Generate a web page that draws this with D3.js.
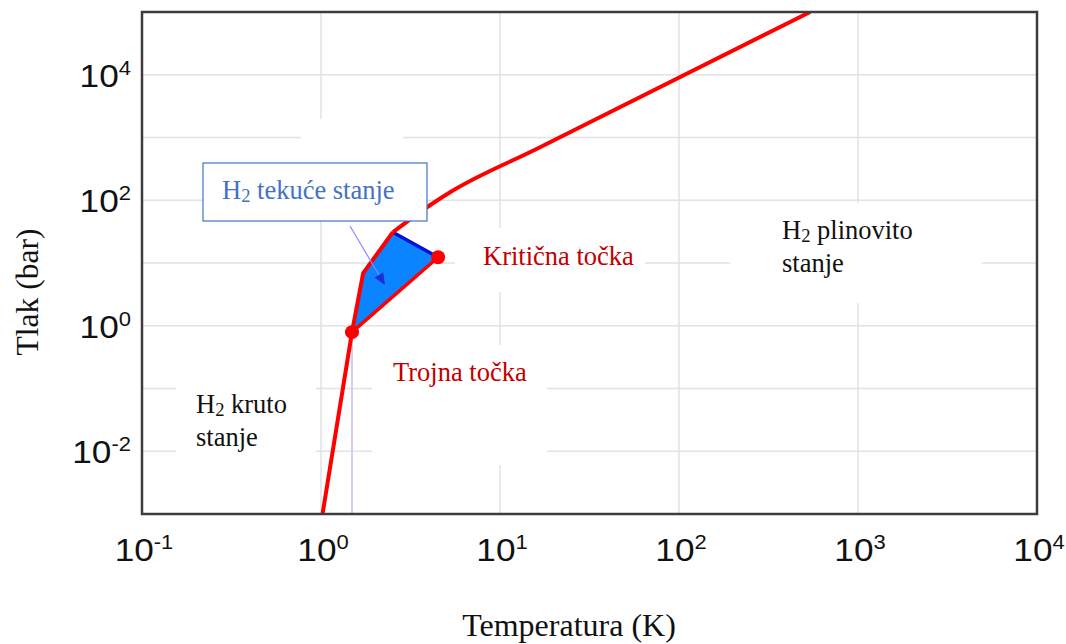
<!DOCTYPE html>
<html>
<head>
<meta charset="utf-8">
<script src="https://cdn.jsdelivr.net/npm/d3@7"></script>
<style>
  html, body { margin: 0; padding: 0; background: #fff; }
  svg { display: block; }
</style>
</head>
<body>
<svg id="chart" width="1066" height="644"></svg>
<script>
// ---------- data ----------
const xDomain = [0.1, 10000];
const yDomain = [1e-3, 1e5];
const xTickValues = [0.1, 1, 10, 100, 1000, 10000];
const xTickExponents = ["-1", "0", "1", "2", "3", "4"];
const yTickValues = [1e-2, 1, 1e2, 1e4];
const yTickExponents = ["-2", "0", "2", "4"];
const xGridValues = [1, 10, 100, 1000];
const yGridValues = [1e-2, 1e-1, 1, 10, 100, 1e3, 1e4];

// lower phase boundary (sublimation + start of melting curve), T in K, P in bar
const lowerT = [1.02, 1.49, 1.72, 2.52];
const lowerP = [1e-3, 0.79, 6.9, 30.9];
// upper melting curve
const upperT = [2.52, 4.06, 5.26, 16.1, 540];
const upperP = [30.9, 83.3, 134, 662, 1e5];
// liquid region polygon
const liquidT = [1.49, 1.72, 2.52, 4.51];
const liquidP = [0.79, 6.9, 30.9, 12.35];
// vaporisation curve
const vaporT = [1.49, 4.51];
const vaporP = [0.79, 12.35];
// upper liquid edge
const liquidTopT = [2.52, 4.51];
const liquidTopP = [30.9, 12.35];
// special points
const pointNames = ["Trojna točka", "Kritična točka"];
const pointT = [1.49, 4.51];
const pointP = [0.79, 12.35];
// arrow target inside liquid region
const arrowTarget = [2.28, 4.42];

// ---------- layout ----------
const W = 1066, H = 644;
const plot = { left: 142, top: 12, right: 1037, bottom: 514 };
const svg = d3.select("#chart");

const x = d3.scaleLog().domain(xDomain).range([plot.left, plot.right]);
const y = d3.scaleLog().domain(yDomain).range([plot.bottom, plot.top]);

svg.append("defs").append("clipPath").attr("id", "clip")
  .append("rect").attr("x", plot.left).attr("y", plot.top)
  .attr("width", plot.right - plot.left).attr("height", plot.bottom - plot.top);

// gridlines
const grid = svg.append("g").attr("stroke", "#e2e2e2").attr("stroke-width", 1.5);
grid.selectAll("line.v").data(xGridValues).join("line")
  .attr("x1", d => x(d)).attr("x2", d => x(d))
  .attr("y1", plot.top).attr("y2", plot.bottom);
grid.selectAll("line.h").data(yGridValues).join("line")
  .attr("y1", d => y(d)).attr("y2", d => y(d))
  .attr("x1", plot.left).attr("x2", plot.right);

// white label backgrounds (text boxes interrupting the grid)
const masks = [
  [301, 119, 102, 50],
  [455, 228, 190, 64],
  [372, 345, 175, 120],
  [176, 378, 140, 88],
  [730, 203, 252, 100]
];
svg.append("g").selectAll("rect").data(masks).join("rect")
  .attr("x", d => d[0]).attr("y", d => d[1]).attr("width", d => d[2]).attr("height", d => d[3])
  .attr("fill", "#fff");

const g = svg.append("g").attr("clip-path", "url(#clip)");
const line = d3.line().x(d => x(d[0])).y(d => y(d[1]));
const smooth = d3.line().x(d => x(d[0])).y(d => y(d[1])).curve(d3.curveMonotoneX);

// lavender drop line from triple point
g.append("line")
  .attr("x1", x(pointT[0])).attr("x2", x(pointT[0]))
  .attr("y1", y(pointP[0])).attr("y2", plot.bottom)
  .attr("stroke", "#d4cdee").attr("stroke-width", 2);

// liquid region
g.append("path")
  .datum(liquidT.map((t, i) => [t, liquidP[i]]))
  .attr("d", d => line(d) + "Z")
  .attr("fill", "#0a84ff");
g.append("path")
  .datum(liquidTopT.map((t, i) => [t, liquidTopP[i]]))
  .attr("d", line).attr("fill", "none")
  .attr("stroke", "#0010d8").attr("stroke-width", 3.5);

// red curves
g.append("path")
  .datum(vaporT.map((t, i) => [t, vaporP[i]]))
  .attr("d", line).attr("fill", "none")
  .attr("stroke", "#ff0000").attr("stroke-width", 3.5);
g.append("path")
  .datum(lowerT.map((t, i) => [t, lowerP[i]]))
  .attr("d", line).attr("fill", "none")
  .attr("stroke", "#ff0000").attr("stroke-width", 4).attr("stroke-linejoin", "round");
g.append("path")
  .datum(upperT.map((t, i) => [t, upperP[i]]))
  .attr("d", smooth).attr("fill", "none")
  .attr("stroke", "#ff0000").attr("stroke-width", 4).attr("stroke-linejoin", "round");

// points
g.selectAll("circle").data(pointT).join("circle")
  .attr("cx", d => x(d)).attr("cy", (d, i) => y(pointP[i])).attr("r", 7)
  .attr("fill", "#ff0000");

// frame
svg.append("rect")
  .attr("x", plot.left).attr("y", plot.top)
  .attr("width", plot.right - plot.left).attr("height", plot.bottom - plot.top)
  .attr("fill", "none").attr("stroke", "#3c3c3c").attr("stroke-width", 2.5);

// tick labels
const tickFont = "'Liberation Sans', Arial, sans-serif";
const xt = svg.append("g").selectAll("g").data(xTickValues).join("g")
  .attr("transform", d => `translate(${x(d) + 2},561)`);
const xtText = xt.append("text").attr("transform", "scale(1.1,1)")
  .attr("text-anchor", "middle").attr("font-family", tickFont).attr("font-size", 32).attr("fill", "#111");
xtText.append("tspan").text("10");
xtText.append("tspan").attr("dy", -12).attr("font-size", 20).text((d, i) => xTickExponents[i]);

const yt = svg.append("g").selectAll("g").data(yTickValues).join("g")
  .attr("transform", d => `translate(131,${y(d) + 12})`);
const ytText = yt.append("text").attr("transform", "scale(1.1,1)")
  .attr("text-anchor", "end").attr("font-family", tickFont).attr("font-size", 32).attr("fill", "#111");
ytText.append("tspan").text("10");
ytText.append("tspan").attr("dy", -12).attr("font-size", 20).text((d, i) => yTickExponents[i]);

// axis titles
const serif = "'Liberation Serif', 'Times New Roman', serif";
svg.append("text").attr("x", 569).attr("y", 636).attr("text-anchor", "middle")
  .attr("font-family", serif).attr("font-size", 32).attr("fill", "#111").text("Temperatura (K)");
svg.append("text").attr("transform", "translate(38,292) rotate(-90)").attr("text-anchor", "middle")
  .attr("font-family", serif).attr("font-size", 31.5).attr("fill", "#111").text("Tlak (bar)");

// point labels
const pointLabelPos = [[393, 381], [483, 265]];
svg.append("g").selectAll("text").data(pointNames).join("text")
  .attr("x", (d, i) => pointLabelPos[i][0]).attr("y", (d, i) => pointLabelPos[i][1])
  .attr("font-family", serif).attr("font-size", 26.5).attr("fill", "#c00000").text(d => d);

// region labels with subscript
function h2Label(xp, yp, rest, line2, color, size) {
  const t = svg.append("text").attr("x", xp).attr("y", yp)
    .attr("font-family", serif).attr("font-size", size).attr("fill", color);
  t.append("tspan").text("H");
  t.append("tspan").attr("font-size", size * 0.7).attr("dy", 3).text("2");
  t.append("tspan").attr("dy", -3).text(" " + rest);
  if (line2) {
    svg.append("text").attr("x", xp).attr("y", yp + 33)
      .attr("font-family", serif).attr("font-size", size).attr("fill", color).text(line2);
  }
}
h2Label(196, 413, "kruto", "stanje", "#111", 26.5);
h2Label(782, 239, "plinovito", "stanje", "#111", 26.5);

// annotation box for liquid
svg.append("rect").attr("x", 203).attr("y", 163).attr("width", 224).attr("height", 58)
  .attr("fill", "#fff").attr("stroke", "#4472c4").attr("stroke-width", 1.2);
h2Label(222, 199, "tekuće stanje", null, "#4472c4", 26.5);

// arrow
const ax0 = 350, ay0 = 226;
const ax1 = x(arrowTarget[0]), ay1 = y(arrowTarget[1]);
svg.append("line").attr("x1", ax0).attr("y1", ay0).attr("x2", ax1).attr("y2", ay1)
  .attr("stroke", "#8a8cff").attr("stroke-width", 1.2);
const ang = Math.atan2(ay1 - ay0, ax1 - ax0);
const hl = 12, hw = 5;
const bx = ax1 - hl * Math.cos(ang), by = ay1 - hl * Math.sin(ang);
svg.append("path")
  .attr("d", `M${ax1},${ay1} L${bx + hw * Math.sin(ang)},${by - hw * Math.cos(ang)} L${bx - hw * Math.sin(ang)},${by + hw * Math.cos(ang)} Z`)
  .attr("fill", "#1a2fd8");
</script>
</body>
</html>
